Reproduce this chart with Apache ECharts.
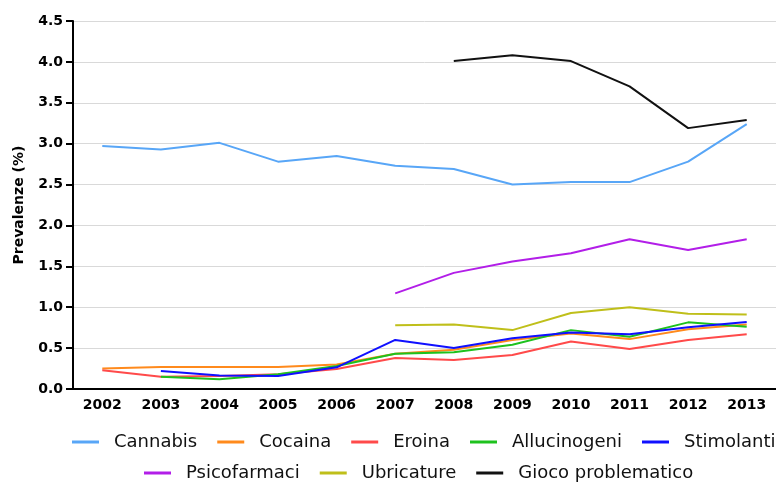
<!DOCTYPE html>
<html>
<head>
<meta charset="utf-8">
<script src="https://cdn.jsdelivr.net/npm/echarts@6/dist/echarts.min.js"></script>
<style>html,body{margin:0;padding:0;background:#fff}#c{width:776px;height:482px}</style>
</head>
<body>
<div id="c"></div>
<script>
var years = ['2002','2003','2004','2005','2006','2007','2008','2009','2010','2011','2012','2013'];
var yTicks = [0,0.5,1,1.5,2,2.5,3,3.5,4,4.5];
var cannabis      = [2.97,2.93,3.01,2.78,2.85,2.73,2.69,2.50,2.53,2.53,2.78,3.24];
var cocaina       = [0.25,0.27,0.27,0.27,0.30,0.43,0.48,0.60,0.68,0.61,0.73,0.79];
var eroina        = [0.23,0.15,0.16,0.18,0.245,0.38,0.355,0.415,0.58,0.49,0.60,0.67];
var allucinogeni  = [null,0.15,0.12,0.18,0.28,0.43,0.45,0.54,0.72,0.64,0.815,0.76];
var stimolanti    = [null,0.22,0.165,0.16,0.265,0.60,0.50,0.62,0.69,0.67,0.755,0.82];
var psicofarmaci  = [null,null,null,null,null,1.17,1.42,1.56,1.66,1.83,1.70,1.83];
var ubricature    = [null,null,null,null,null,0.78,0.79,0.72,0.93,1.00,0.92,0.91];
var gioco         = [null,null,null,null,null,null,4.01,4.08,4.01,3.70,3.19,3.29];

var names = ['Cannabis','Cocaina','Eroina','Allucinogeni','Stimolanti','Psicofarmaci','Ubricature','Gioco problematico'];
var datas = [cannabis,cocaina,eroina,allucinogeni,stimolanti,psicofarmaci,ubricature,gioco];
var colors = ['#58a6f7','#ff8a1c','#ff4a4a','#1ec21e','#1010ff','#b21ee8','#bfbf1a','#111111'];

var chart = echarts.init(document.getElementById('c'), null, {renderer:'canvas'});
var font = 'DejaVu Sans';
var legendCommon = {
  orient:'horizontal', icon:'rect', itemWidth:27, itemHeight:3, itemGap:20, width:1000,
  textStyle:{fontFamily:font, fontSize:18, color:'#111', padding:[0,0,0,10]}
};
chart.setOption({
  animation:false,
  color: colors,
  grid:{left:73, right:0, top:21, bottom:93, containLabel:false},
  legend:[
    Object.assign({data:names.slice(0,5), left:67, top:428}, legendCommon),
    Object.assign({data:names.slice(5), left:139, top:459}, legendCommon)
  ],
  xAxis:{
    type:'category', data:years, boundaryGap:true,
    axisLine:{lineStyle:{color:'#000', width:2}},
    axisTick:{alignWithLabel:true, length:6, lineStyle:{color:'#000', width:2}},
    axisLabel:{fontFamily:font, fontWeight:'bold', fontSize:14, color:'#000', margin:9},
    splitLine:{show:false}
  },
  yAxis:{
    type:'value', min:yTicks[0], max:yTicks[yTicks.length-1], interval:0.5,
    name:'Prevalenze (%)', nameLocation:'middle', nameGap:47, nameRotate:90,
    nameTextStyle:{fontFamily:font, fontWeight:'bold', fontSize:14, color:'#000'},
    axisLine:{show:true, lineStyle:{color:'#000', width:2}},
    axisTick:{show:true, length:7, lineStyle:{color:'#000', width:2}},
    axisLabel:{fontFamily:font, fontWeight:'bold', fontSize:14, color:'#000', margin:10,
      formatter:function(v){return v.toFixed(1);}},
    splitLine:{show:true, lineStyle:{color:'#d9d9d9', width:1}}
  },
  series: names.map(function(n,i){
    return {name:n, type:'line', data:datas[i], symbol:'none', showSymbol:false,
      lineStyle:{width:2, color:colors[i]}, itemStyle:{color:colors[i]}};
  })
});
</script>
</body>
</html>
